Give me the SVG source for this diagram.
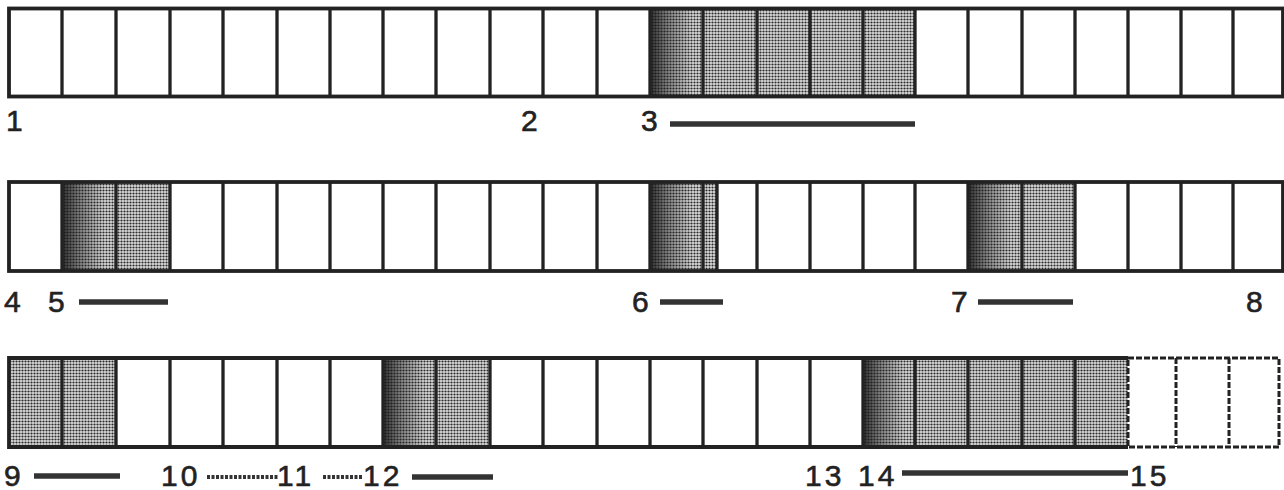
<svg xmlns="http://www.w3.org/2000/svg" width="1284" height="490" viewBox="0 0 1284 490">
<defs>
<pattern id="stip" width="3" height="3" patternUnits="userSpaceOnUse"><rect width="3" height="3" fill="#dcdcdc"/><circle cx="1.5" cy="1.5" r="1.1" fill="#2a2a2a"/></pattern>
<linearGradient id="dk" x1="0" y1="0" x2="1" y2="0"><stop offset="0" stop-color="#111" stop-opacity="0.85"/><stop offset="0.35" stop-color="#222" stop-opacity="0.45"/><stop offset="0.8" stop-color="#222" stop-opacity="0"/></linearGradient>
<style>
.w{fill:#fff}
.s{fill:url(#stip)}
.g{fill:url(#dk)}
.b{stroke:#222;stroke-width:3.3;fill:none}
.o{stroke:#222;stroke-width:3.8;fill:none}
.d{stroke:#222;stroke-width:3;fill:none;stroke-dasharray:6 2}
.t{font-family:"Liberation Sans",Arial,sans-serif;font-size:30px;fill:#222;stroke:#222;stroke-width:0.6}
.t2{letter-spacing:3px}
.ln{stroke:#333;stroke-width:5.5;stroke-linecap:butt}
.dl{stroke:#333;stroke-width:4;stroke-dasharray:3 1.5}
</style>
</defs>
<rect width="1284" height="490" fill="#fff"/>

<g id="row1">
<rect x="9" y="8.5" width="1274" height="88" class="w"/>
<rect x="650" y="8.5" width="265" height="88" class="s"/>
<rect x="650" y="8.5" width="53" height="88" class="g"/>
<path class="b" d="M62 8.5V96.5M116 8.5V96.5M170 8.5V96.5M223 8.5V96.5M277 8.5V96.5M330 8.5V96.5M383 8.5V96.5M436 8.5V96.5M490 8.5V96.5M543 8.5V96.5M597 8.5V96.5M650 8.5V96.5M703 8.5V96.5M757 8.5V96.5M810 8.5V96.5M863 8.5V96.5M915 8.5V96.5M968 8.5V96.5M1022 8.5V96.5M1075 8.5V96.5M1128 8.5V96.5M1181 8.5V96.5M1233 8.5V96.5"/>
<rect x="9" y="8.5" width="1274" height="88" class="o"/>
</g>

<g id="row2">
<rect x="9" y="182" width="1274" height="89" class="w"/>
<rect x="62" y="182" width="108" height="89" class="s"/>
<rect x="62" y="182" width="54" height="89" class="g"/>
<rect x="650" y="182" width="67" height="89" class="s"/>
<rect x="650" y="182" width="53" height="89" class="g"/>
<rect x="968" y="182" width="107" height="89" class="s"/>
<rect x="968" y="182" width="54" height="89" class="g"/>
<path class="b" d="M62 182V271M116 182V271M170 182V271M223 182V271M277 182V271M330 182V271M383 182V271M436 182V271M490 182V271M543 182V271M597 182V271M650 182V271M703 182V271M717 182V271M757 182V271M810 182V271M863 182V271M915 182V271M968 182V271M1022 182V271M1075 182V271M1128 182V271M1181 182V271M1233 182V271"/>
<rect x="9" y="182" width="1274" height="89" class="o"/>
</g>

<g id="row3">
<rect x="9" y="358" width="1270" height="89" class="w"/>
<rect x="9" y="358" width="107" height="89" class="s"/>
<rect x="383" y="358" width="107" height="89" class="s"/>
<rect x="383" y="358" width="53" height="89" class="g"/>
<rect x="863" y="358" width="265" height="89" class="s"/>
<rect x="863" y="358" width="52" height="89" class="g"/>
<path class="b" d="M62 358V447M116 358V447M170 358V447M223 358V447M277 358V447M330 358V447M383 358V447M436 358V447M490 358V447M543 358V447M597 358V447M650 358V447M703 358V447M757 358V447M810 358V447M863 358V447M915 358V447M968 358V447M1022 358V447M1075 358V447"/>
<path class="o" d="M1128 358H9V447H1128"/>
<path class="d" d="M1128 358H1279V447H1128ZM1176 358V447M1229 358V447"/>
</g>

<g id="connectors">
<line class="ln" x1="670" y1="124" x2="915" y2="124"/>
<line class="ln" x1="79" y1="302" x2="168" y2="302"/>
<line class="ln" x1="660" y1="302" x2="723" y2="302"/>
<line class="ln" x1="978" y1="302" x2="1073" y2="302"/>
<line class="ln" x1="34" y1="476" x2="120" y2="476"/>
<line class="dl" x1="207" y1="477" x2="278" y2="477"/>
<line class="dl" x1="323" y1="477" x2="362" y2="477"/>
<line class="ln" x1="412" y1="477" x2="493" y2="477"/>
<line class="ln" x1="902" y1="473" x2="1128" y2="473"/>
</g>

<g id="labels">
<text class="t" x="6" y="131">1</text>
<text class="t" x="521" y="131">2</text>
<text class="t" x="641" y="131">3</text>
<text class="t" x="4" y="312">4</text>
<text class="t" x="48" y="312">5</text>
<text class="t" x="632" y="312">6</text>
<text class="t" x="951" y="312">7</text>
<text class="t" x="1246" y="312">8</text>
<text class="t" x="4" y="486">9</text>
<text class="t t2" x="161" y="486">10</text>
<text class="t t2" x="277" y="486">11</text>
<text class="t t2" x="363" y="486">12</text>
<text class="t t2" x="805" y="486">13</text>
<text class="t t2" x="858" y="486">14</text>
<text class="t t2" x="1130" y="486">15</text>
</g>
</svg>
